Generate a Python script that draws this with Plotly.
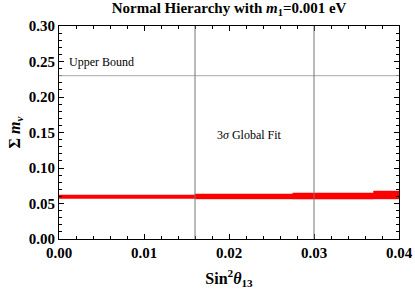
import plotly.graph_objects as go

# Data
x_edges = [0.0, 0.016, 0.0275, 0.037, 0.04]
band_lower = [0.0570, 0.0565, 0.0562, 0.0565, 0.0565]
band_upper = [0.0620, 0.0634, 0.0648, 0.0676, 0.0676]
upper_bound = [0.23]
global_fit_x = [0.016, 0.03]
x_ticks = [0.00, 0.01, 0.02, 0.03, 0.04]
y_ticks = [0.00, 0.05, 0.10, 0.15, 0.20, 0.25, 0.30]

FONT = "Liberation Serif"

fig = go.Figure()
fig.add_trace(go.Scatter(x=x_edges, y=band_lower, mode="lines", line=dict(color="red", width=0.5, shape="hv"),
                         showlegend=False, hoverinfo="skip"))
fig.add_trace(go.Scatter(x=x_edges, y=band_upper, mode="lines", line=dict(color="red", width=0.5, shape="hv"),
                         fill="tonexty", fillcolor="red", showlegend=False, hoverinfo="skip"))

for v in upper_bound:
    fig.add_hline(y=v, line=dict(color="#a8a8a8", width=1))
for v in global_fit_x:
    fig.add_vline(x=v, line=dict(color="#777777", width=1))

fig.add_annotation(x=0.0009, y=0.249, text="Upper Bound", showarrow=False, xanchor="left", yanchor="middle",
                   font=dict(family=FONT, size=12, color="black"))
fig.add_annotation(x=0.0224, y=0.147, text="3<i>σ</i> Global Fit", showarrow=False, xanchor="center", yanchor="middle",
                   font=dict(family=FONT, size=12, color="black"))

axis_common = dict(showline=True, linecolor="black", linewidth=1, mirror="ticks", ticks="inside",
                   tickcolor="black", showgrid=False, zeroline=False,
                   tickfont=dict(family=FONT, size=15, color="black", weight="bold"))

fig.update_xaxes(range=[0, 0.04], tickvals=x_ticks, tickformat=".2f", ticklen=5,
                 minor=dict(dtick=0.002, ticklen=3, ticks="inside", tickcolor="black"),
                 title=dict(text="Sin<sup>2</sup><i>θ</i><sub>13</sub>", standoff=15,
                            font=dict(family=FONT, size=16, color="black", weight="bold")),
                 **axis_common)
fig.update_yaxes(range=[0, 0.30], tickvals=y_ticks, tickformat=".2f", ticklen=5,
                 minor=dict(dtick=0.01, ticklen=3, ticks="inside", tickcolor="black"),
                 title=dict(text="Σ <i>m</i><sub><i>ν</i></sub>", standoff=4,
                            font=dict(family=FONT, size=16, color="black", weight="bold")),
                 **axis_common)

fig.update_layout(
    width=415, height=289,
    margin=dict(l=59, r=16, t=26, b=50, autoexpand=False),
    plot_bgcolor="white", paper_bgcolor="white",
    title=dict(text="Normal Hierarchy with <i>m</i><sub>1</sub>=0.001 eV", x=0.552, xanchor="center",
               y=0.972, yanchor="middle",
               font=dict(family=FONT, size=15, color="black", weight="bold")),
)

fig.write_html("out.html", config={"displayModeBar": False},
               post_script="document.body.style.margin='0';")
